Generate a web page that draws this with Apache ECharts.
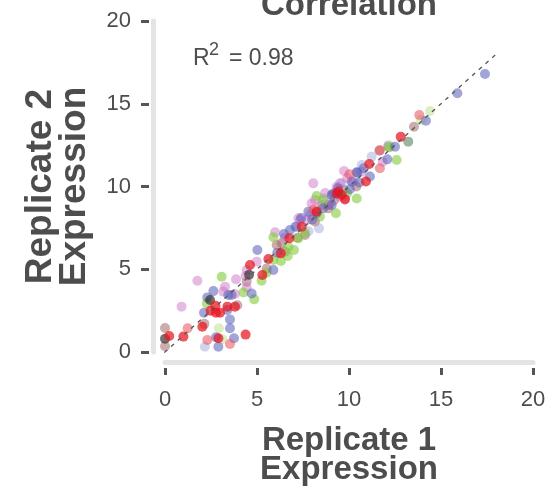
<!DOCTYPE html>
<html lang="en">
<head>
	<meta charset="utf-8">
	<title>Correlation</title>
	<script type="text/javascript" src="https://cdn.jsdelivr.net/npm/echarts@6/dist/echarts.min.js"></script>
	<style type="text/css">
		html, body { margin: 0; padding: 0; background: #fff; }
		#chartmain { width: 555px; height: 487px; }
	</style>
</head>
<body>
	<div id="chartmain"></div>
	<script type="text/javascript">

		// replicate 1 vs replicate 2 expression, grouped by point colour
		var xTicks = [0, 5, 10, 15, 20];
		var yTicks = [0, 5, 10, 15, 20];
		var diagonal = [[-0.4, -0.4], [18, 18]];

		var redPts = [[0.23,0.97],[1.0,0.93],[2.03,1.53],[2.74,2.8],[2.48,2.5],[2.77,2.37],[2.99,2.37],
			[3.39,2.74],[3.8,2.74],[2.9,0.83],[4.38,1.05],[4.62,5.26],[5.29,4.65],[5.62,5.62],[6.29,5.96],
			[6.76,6.87],[7.43,7.57],[9.33,9.58],[9.42,9.7],[9.6,9.49],[10.92,10.3],[11.1,11.36],[12.81,13.0],
			[9.78,9.22],[8.24,8.48]];
		var salmonPts = [[1.23,1.43],[2.3,0.73],[3.53,0.48],[10.02,10.74],[11.68,12.2],[13.82,14.32],
			[11.68,11.1],[8.06,8.6]];
		var bluePts = [[2.12,2.37],[2.3,3.3],[2.63,3.68],[3.44,3.44],[3.62,3.44],[3.39,2.54],[3.53,1.97],
			[3.53,1.43],[2.77,0.89],[2.9,0.32],[3.75,0.83],[4.71,3.54],[5.02,6.16],[5.89,4.95],[6.47,7.13],
			[7.12,7.57],[7.79,8.48],[8.24,8.38],[8.6,8.68],[9.06,9.49],[9.15,9.58],[10.05,9.83],[10.45,10.84],
			[10.56,10.24],[11.14,10.6],[12.08,11.64],[12.5,12.4],[14.18,13.98],[15.89,15.63],[17.39,16.8],
			[10.42,10.86],[6.79,7.37],[9.06,8.88],[10.15,10.29],[7.4,8.1],[8.0,8.0],[9.4,9.9],[10.8,11.1],
			[6.1,6.0]];
		var lavenderPts = [[2.17,0.32],[8.37,7.47],[11.23,11.8],[8.6,9.27],[10.69,11.3],[7.07,7.57],
			[9.06,9.49],[12.14,12.5],[9.6,10.2],[7.8,7.3]];
		var greenPts = [[2.27,2.94],[3.08,4.55],[4.26,3.59],[4.85,3.18],[5.25,4.31],[5.89,5.56],[6.67,5.8],
			[5.89,6.93],[6.7,6.36],[7.01,6.16],[7.25,6.87],[8.24,9.43],[8.42,8.18],[8.6,9.18],[9.29,8.38],
			[10.42,9.27],[12.59,11.6],[12.19,12.37],[5.52,4.79],[7.6,7.2],[9.9,9.6],[6.3,5.5]];
		var paleGreenPts = [[2.93,1.43],[3.12,0.77],[14.4,14.56],[13.9,14.02],[12.23,12.4]];
		var pinkPts = [[0.9,2.74],[1.76,4.3],[3.26,3.95],[3.17,3.65],[3.8,3.5],[3.86,4.39],[4.44,3.89],
			[4.38,4.59],[4.98,5.46],[5.98,7.23],[7.25,8.08],[7.7,7.98],[7.97,8.98],[8.15,9.18],[8.06,10.19],
			[8.97,8.98],[9.33,9.99],[9.73,10.94],[9.78,9.27],[9.51,10.19],[11.83,11.5],[10.24,10.3],
			[9.51,9.39],[4.44,4.95],[7.34,7.98],[10.69,10.89],[6.5,6.9],[7.9,8.3],[8.7,9.6],[9.9,10.5]];
		var brownPts = [[0,1.45],[0,0.35],[2.14,1.7],[3.93,2.82],[4.44,4.25],[5.53,5.05],[6.34,6.57],
			[6.52,6.06],[7.61,7.07],[8.15,7.88],[8.88,8.68],[9.2,9.18],[12.14,12.4],[11.65,12.16],[13.53,13.61],
			[8.51,8.88],[6.07,6.47],[8.88,8.88],[9.7,9.8],[10.4,10.0],[7.2,6.9]];
		var darkPts = [[0,0.8],[2.45,3.14],[4.57,4.67]];
		var sagePts = [[13.22,12.71]];

		var groups = [
			{ name: 'brown', data: brownPts, color: 'rgba(160,96,96,0.65)' },
			{ name: 'lavender', data: lavenderPts, color: 'rgba(150,156,214,0.55)' },
			{ name: 'paleGreen', data: paleGreenPts, color: 'rgba(180,222,130,0.6)' },
			{ name: 'pink', data: pinkPts, color: 'rgba(204,110,196,0.6)' },
			{ name: 'green', data: greenPts, color: 'rgba(130,204,60,0.75)' },
			{ name: 'blue', data: bluePts, color: 'rgba(90,96,184,0.7)' },
			{ name: 'salmon', data: salmonPts, color: 'rgba(234,80,92,0.7)' },
			{ name: 'sage', data: sagePts, color: 'rgba(100,140,110,0.8)' },
			{ name: 'dark', data: darkPts, color: 'rgba(50,50,50,0.85)' },
			{ name: 'red', data: redPts, color: 'rgba(232,20,30,0.9)' }
		];

		var textColor = '#4d4d4d';
		var myChart = echarts.init(document.getElementById('chartmain'));

		var series = groups.map(function (g) {
			return {
				name: g.name,
				type: 'scatter',
				xAxisIndex: 1,
				yAxisIndex: 1,
				symbolSize: 10,
				itemStyle: { color: g.color },
				data: g.data
			};
		});
		series.push({
			type: 'line',
			xAxisIndex: 1,
			yAxisIndex: 1,
			data: diagonal,
			symbol: 'none',
			clip: false,
			silent: true,
			z: 5,
			lineStyle: { color: '#555', width: 1.3, type: [4, 5] }
		});

		var option = {
			animation: false,
			grid: { left: 165, right: 22, top: 21, bottom: 135, outerBoundsMode: 'none', containLabel: false },
			xAxis: [
				{
					type: 'value', min: -0.1, max: 20.2, position: 'bottom', offset: 10,
					axisLine: { show: true, onZero: false, lineStyle: { color: '#e4e4e4', width: 5 } },
					axisTick: { show: false }, axisLabel: { show: false }, splitLine: { show: false }
				},
				{
					type: 'value', min: xTicks[0], max: xTicks[xTicks.length - 1], interval: 5,
					position: 'bottom', offset: 16,
					axisLine: { show: false, onZero: false },
					axisTick: { show: true, length: 7, lineStyle: { color: '#555', width: 3 } },
					axisLabel: { color: textColor, fontSize: 22, margin: 21, fontFamily: 'Liberation Sans' },
					splitLine: { show: false },
					name: 'Replicate 1\nExpression',
					nameLocation: 'middle',
					nameGap: 58,
					nameTextStyle: { color: textColor, fontSize: 33, fontWeight: 'bold', lineHeight: 29, fontFamily: 'Liberation Sans' }
				}
			],
			yAxis: [
				{
					type: 'value', min: -0.2, max: 20.05, position: 'left', offset: 12,
					axisLine: { show: true, onZero: false, lineStyle: { color: '#e4e4e4', width: 5 } },
					axisTick: { show: false }, axisLabel: { show: false }, splitLine: { show: false }
				},
				{
					type: 'value', min: yTicks[0], max: yTicks[yTicks.length - 1], interval: 5,
					position: 'left', offset: 16,
					axisLine: { show: false, onZero: false },
					axisTick: { show: true, length: 8, lineStyle: { color: '#555', width: 3 } },
					axisLabel: { color: textColor, fontSize: 22, margin: 18, fontFamily: 'Liberation Sans' },
					splitLine: { show: false },
					name: 'Replicate 2\nExpression',
					nameLocation: 'middle',
					nameGap: 57,
					nameTextStyle: { color: textColor, fontSize: 37, fontWeight: 'bold', lineHeight: 34, fontFamily: 'Liberation Sans' }
				}
			],
			graphic: [
				{
					type: 'text', x: 349, y: 22, silent: true,
					style: { text: 'Correlation', fill: textColor, font: 'bold 33px "Liberation Sans"', textAlign: 'center', textVerticalAlign: 'bottom' }
				},
				{
					type: 'text', x: 193, y: 47, silent: true,
					style: { text: 'R', fill: textColor, font: '23px "Liberation Sans"', textVerticalAlign: 'top' }
				},
				{
					type: 'text', x: 209, y: 41, silent: true,
					style: { text: '2', fill: textColor, font: '18px "Liberation Sans"', textVerticalAlign: 'top' }
				},
				{
					type: 'text', x: 229, y: 47, silent: true,
					style: { text: '= 0.98', fill: textColor, font: '23px "Liberation Sans"', textVerticalAlign: 'top' }
				}
			],
			series: series
		};

		myChart.setOption(option);
	</script>
</body>
</html>
